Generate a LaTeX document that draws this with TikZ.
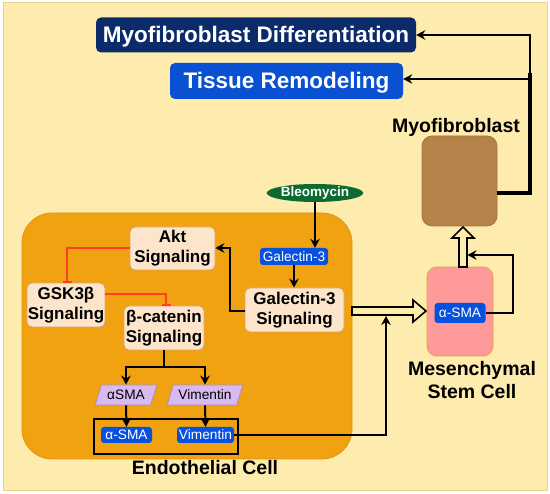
\documentclass[tikz,border=0pt]{standalone}
\usepackage{fontspec}
\setmainfont{Liberation Sans}
\usetikzlibrary{arrows.meta,shapes.geometric}
\definecolor{bg}{HTML}{FEEBAE}
\definecolor{bgb}{HTML}{E9D08E}
\definecolor{endo}{HTML}{F0A211}
\definecolor{endob}{HTML}{E0960C}
\definecolor{navy}{HTML}{0C2B6B}
\definecolor{tblue}{HTML}{0A50D2}
\definecolor{bbox}{HTML}{0751DE}
\definecolor{sigf}{HTML}{FCE5CB}
\definecolor{sigb}{HTML}{D8A36A}
\definecolor{paraf}{HTML}{D9BAF0}
\definecolor{parab}{HTML}{A98DCB}
\definecolor{bleo}{HTML}{0C6B31}
\definecolor{myo}{HTML}{B5834A}
\definecolor{myob}{HTML}{A8753C}
\definecolor{msc}{HTML}{FF9A9A}
\definecolor{mscb}{HTML}{E3A04A}
\definecolor{inhred}{HTML}{FF4020}
\tikzset{
 arr/.style={line width=2pt, -{Stealth[length=9pt,width=9.5pt,inset=3pt]}},
 inh/.style={draw=inhred, line width=2pt, -{Bar[width=9pt,line width=2pt]}},
 sig/.style={draw=sigb, fill=sigf, line width=0.8pt, rounded corners=5pt, align=center, font=\bfseries\fontsize{17}{20}\selectfont, inner sep=0pt},
 bluebox/.style={fill=bbox, rounded corners=3pt, text=white, font=\fontsize{13.7}{16}\selectfont, inner sep=0pt},
 para/.style={trapezium, trapezium left angle=63, trapezium right angle=117, trapezium stretches=true, draw=parab, fill=paraf, line width=0.8pt, font=\fontsize{13.7}{16}\selectfont, inner sep=0pt},
 lbl/.style={font=\bfseries\fontsize{19.5}{23}\selectfont, align=center, inner sep=0pt},
 bigbox/.style={rounded corners=5pt, text=white, font=\bfseries\fontsize{22.5}{26}\selectfont, inner sep=0pt, text height=16pt, text depth=0pt},
 hollow/.style={draw=black, fill=bg, line width=1.6pt, line join=miter},
}
\begin{document}
\begin{tikzpicture}[x=1pt,y=-1pt]
\useasboundingbox (0,0) rectangle (550,494);
\draw[draw=bgb, fill=bg, line width=1pt] (3,3) rectangle (547,491);
% endothelial cell region
\draw[draw=endob, fill=endo, line width=0.8pt, rounded corners=30pt] (22,213) rectangle (352,459);
\node[lbl, anchor=base] (endolbl) at (205,475) {Endothelial Cell};
% top boxes
\node[bigbox, fill=navy, minimum width=320pt, minimum height=35pt] (md) at (256,35) {Myofibroblast Differentiation};
\node[bigbox, fill=tblue, minimum width=233pt, minimum height=36pt] (tr) at (286.5,81) {Tissue Remodeling};
% myofibroblast
\node[lbl, anchor=base] (myolbl) at (456,133) {Myofibroblast};
\node[draw=myob, fill=myo, line width=0.8pt, rounded corners=10pt, minimum width=75pt, minimum height=90pt] (myo) at (459.5,181) {};
% MSC
\node[draw=mscb, fill=msc, line width=0.8pt, rounded corners=10pt, minimum width=66pt, minimum height=89pt] (msc) at (460,311.5) {};
\node[bluebox, minimum width=51pt, minimum height=20pt] (msca) at (460,313) {α-SMA};
\node[lbl] (msclbl) at (472,380) {Mesenchymal\\Stem Cell};
% bleomycin and galectin
\node[ellipse, fill=bleo, text=white, font=\bfseries\fontsize{13.5}{16}\selectfont, minimum width=84pt, minimum height=18pt, inner sep=0pt] (bleo) at (315,193) {Bleomycin};
\node[bluebox, minimum width=68pt, minimum height=17pt] (gal) at (294,256.5) {Galectin-3};
\node[sig, minimum width=99pt, minimum height=44pt] (gals) at (294.5,310) {Galectin-3\\Signaling};
\node[sig, minimum width=85pt, minimum height=43pt] (akt) at (172.5,248.5) {Akt\\Signaling};
\node[sig, minimum width=78pt, minimum height=44pt] (gsk) at (66,305) {GSK3β\\Signaling};
\node[sig, minimum width=80pt, minimum height=44pt] (bcat) at (164,328) {β-catenin\\Signaling};
\node[para, minimum width=62pt, minimum height=20pt] (asmap) at (126,395) {αSMA};
\node[para, minimum width=76pt, minimum height=20pt] (vimp) at (205,395) {Vimentin};
\draw[line width=2pt] (94,419) rectangle (238,454);
\node[bluebox, minimum width=51pt, minimum height=16pt] (asmab) at (126.5,435) {α-SMA};
\node[bluebox, minimum width=57pt, minimum height=16pt] (vimb) at (205.5,435) {Vimentin};
% hollow arrows
\draw[hollow] (352,307) -- (413,307) -- (413,300) -- (426,311) -- (413,322) -- (413,315) -- (352,315) -- cycle;
\draw[hollow] (459,267) -- (459,238) -- (452,238) -- (463,227) -- (474,238) -- (467,238) -- (467,267) -- cycle;
\coordinate (hbot) at (386,316);
\coordinate (vshaft) at (467.5,255);
% connectors
\draw[arr] (bleo.south) -- (bleo.south |- gal.north);
\draw[arr] (gal.south) -- (gal.south |- gals.north);
\draw[arr] (gals.west |- 0,311) -- (230,311) -- (230,248) -- (akt.east |- 0,248);
\draw[inh] (akt.west |- 0,248) -- (67,248) -- (67,283);
\draw[inh] (gsk.east |- 0,294) -- (166,294) -- (166,306);
\draw[line width=2pt] (bcat.south) -- (164,367);
\draw[arr] (164,367) -| (asmap.north);
\draw[arr] (164,367) -| (vimp.north);
\draw[arr] (asmap.south) -- (asmab.north);
\draw[arr] (vimp.south) -- (vimb.north);
\draw[arr] (vimb.east) -- (386,435) -- (hbot);
\draw[arr] (msca.east) -- (513,313) -- (513,255) -- (vshaft);
\coordinate (junc) at (530,79);
\draw[line width=3.5pt, line join=miter] (myo.east |- 0,193) -- (530,193) -- (530,73);
\draw[arr] (junc) -- (tr.east |- junc);
\draw[arr] (530,80) -- (530,35) -- (md.east |- 0,35);
\end{tikzpicture}
\end{document}
